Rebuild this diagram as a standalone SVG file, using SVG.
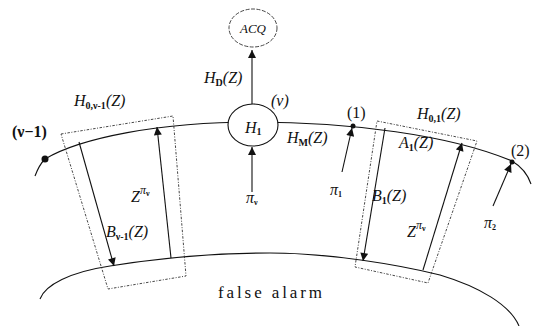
<svg xmlns="http://www.w3.org/2000/svg" width="540" height="326" viewBox="0 0 540 326">
<style>
.ln{fill:none;stroke:#111;stroke-width:1.1}
.dt{fill:none;stroke:#333;stroke-width:0.9;stroke-dasharray:2.5,1.5,1,1.5}
.m{font-family:"Liberation Serif",serif;font-style:italic;font-size:16px;fill:#111}
.u{font-family:"Liberation Serif",serif;font-size:16px;fill:#111}
.s{font-size:10px;font-style:normal;font-weight:bold}
.si{font-size:12px;font-style:italic}
.ss{font-size:8px;font-style:normal;font-weight:bold}
</style>
<defs>
<marker id="ah" viewBox="0 0 10 10" refX="10" refY="5" markerUnits="userSpaceOnUse" markerWidth="9" markerHeight="8" orient="auto">
<path d="M0,0 L10,5 L0,10 z" fill="#111"/>
</marker>
</defs>
<rect width="540" height="326" fill="#fff"/>

<g id="arcs">
<path class="ln" d="M35,176 C38,168 41,163 45,159 C80,138 160,122 253,122 C350,122 450,135 512,161 C522,167 528,175 531,184"/>
<path class="ln" d="M40,299 C45,285 70,272 110,266 C160,258 220,253 270,253 C330,253 400,265 440,275 C480,287 510,305 519,326"/>
</g>

<g id="box-left">
<polygon class="dt" points="61,134 173,116 186,276 108,289"/>
</g>
<g id="box-right">
<polygon class="dt" points="377,121 477,141 428,283 355,267"/>
</g>

<g id="connectors">
<line class="ln" x1="252" y1="104" x2="252" y2="50" marker-end="url(#ah)"/>
<line class="ln" x1="252" y1="192" x2="252" y2="147" marker-end="url(#ah)"/>
<line class="ln" x1="79" y1="142" x2="114" y2="266" marker-end="url(#ah)"/>
<line class="ln" x1="171" y1="258" x2="157" y2="127" marker-end="url(#ah)"/>
<line class="ln" x1="385" y1="128" x2="363" y2="261" marker-end="url(#ah)"/>
<line class="ln" x1="423" y1="270" x2="462" y2="143" marker-end="url(#ah)"/>
<line class="ln" x1="342" y1="172" x2="352" y2="128" marker-end="url(#ah)"/>
<line class="ln" x1="493" y1="206" x2="511" y2="164" marker-end="url(#ah)"/>
</g>

<g id="node-acq">
<ellipse cx="253" cy="28" rx="24" ry="19" fill="#fff" stroke="#333" stroke-width="0.9" stroke-dasharray="4,1.5"/>
<text class="m" x="253" y="33" text-anchor="middle" style="font-size:13px">ACQ</text>
</g>

<g id="node-h1">
<ellipse cx="253" cy="125" rx="25" ry="21" fill="#fff" stroke="#111" stroke-width="1.1"/>
<text class="m" x="245" y="133">H<tspan class="s" dy="2">1</tspan></text>
<text class="m" x="271" y="106">(ν)</text>
</g>

<g id="node-1">
<circle cx="353" cy="126" r="2.5" fill="#111"/>
<text class="u" x="347" y="118">(1)</text>
</g>
<g id="node-2">
<circle cx="512" cy="162" r="2.5" fill="#111"/>
<text class="u" x="511" y="156">(2)</text>
</g>
<g id="node-v1">
<circle cx="45" cy="159" r="3.5" fill="#111"/>
<text class="u" x="12" y="137" font-weight="bold">(ν−1)</text>
</g>

<g id="labels">
<text class="m" x="204" y="83">H<tspan class="s" dy="3">D</tspan><tspan dy="-3">(Z)</tspan></text>
<text class="m" x="287" y="143">H<tspan class="s" dy="3">M</tspan><tspan dy="-3">(Z)</tspan></text>
<text class="m" x="417" y="119">H<tspan class="s" dy="3">0,1</tspan><tspan dy="-3">(Z)</tspan></text>
<text class="m" x="399" y="148">A<tspan class="s" dy="3">1</tspan><tspan dy="-3">(Z)</tspan></text>
<text class="m" x="372" y="201">B<tspan class="s" dy="3">1</tspan><tspan dy="-3">(Z)</tspan></text>
<text class="m" x="74" y="106">H<tspan class="s" dy="3">0,ν-1</tspan><tspan dy="-3">(Z)</tspan></text>
<text class="m" x="106" y="237">B<tspan class="s" dy="3">ν-1</tspan><tspan dy="-3">(Z)</tspan></text>
<text class="m" x="131" y="202">Z<tspan class="si" dy="-8">π</tspan><tspan class="ss" dy="2">ν</tspan></text>
<text class="m" x="407" y="237">Z<tspan class="si" dy="-8">π</tspan><tspan class="ss" dy="2">ν</tspan></text>
<text class="m" x="246" y="203">π<tspan class="ss" dy="2">ν</tspan></text>
<text class="m" x="330" y="195">π<tspan class="ss" dy="2">1</tspan></text>
<text class="m" x="484" y="228">π<tspan class="ss" dy="2">2</tspan></text>
<text class="u" x="218" y="298" style="font-size:17px" textLength="104" lengthAdjust="spacing">false alarm</text>
</g>
</svg>
